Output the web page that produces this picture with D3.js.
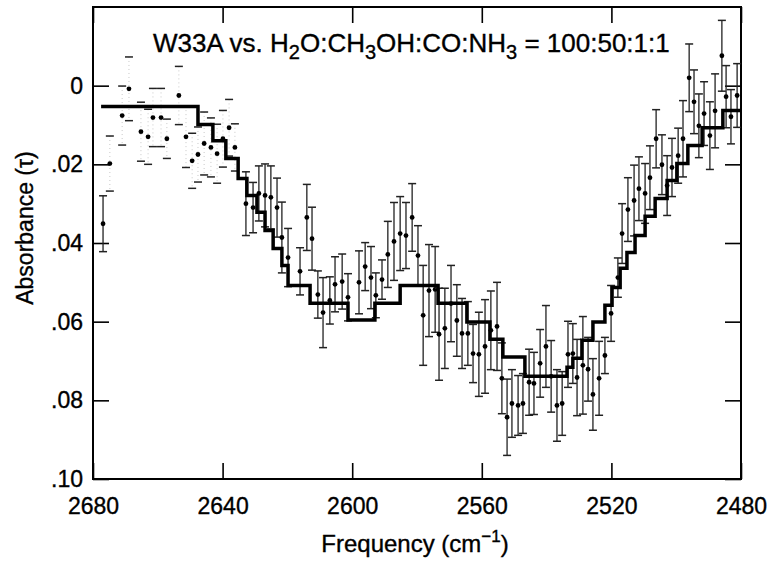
<!DOCTYPE html>
<html>
<head>
<meta charset="utf-8">
<script src="https://cdn.jsdelivr.net/npm/d3@7"></script>
<style>
  body { margin: 0; background: #fff; }
  svg { display: block; font-family: "Liberation Sans", Arial, Helvetica, sans-serif; }
  text { stroke: #000; stroke-width: 0.35px; }
</style>
</head>
<body>
<svg id="chart"></svg>
<script>
// model: step edges (cm-1) and tau of each step
const stepFreq = [2677.5, 2647.6, 2643.0, 2639.0, 2635.2, 2632.5, 2629.4, 2626.9, 2624.4, 2621.7,
  2619.8, 2613.0, 2601.3, 2593.0, 2585.2, 2573.5, 2564.6, 2557.5, 2553.5, 2546.7,
  2533.7, 2531.9, 2529.1, 2525.7, 2522.0, 2519.8, 2517.3, 2515.2, 2512.7, 2509.6,
  2506.5, 2502.8, 2499.8, 2496.4, 2492.0, 2485.6, 2480];
const stepTau = [0.0053, 0.0099, 0.0140, 0.0185, 0.0236, 0.0279, 0.0322, 0.0368, 0.0414, 0.0457,
  0.0508, 0.0553, 0.0596, 0.0553, 0.0508, 0.0553, 0.0601, 0.0645, 0.0690, 0.0739,
  0.0716, 0.0693, 0.0647, 0.0601, 0.0558, 0.0513, 0.0464, 0.0424, 0.0381, 0.0332,
  0.0287, 0.0241, 0.0198, 0.0152, 0.0107, 0.0063];

// W33A points, faint (dotted) error bars at the blue end
const faintFreq = [2674.8, 2671.0, 2668.9, 2665.2, 2663.0, 2661.5, 2659.0, 2657.2, 2653.5, 2651.3,
  2649.4, 2647.6, 2645.7, 2643.6, 2641.7, 2639.9, 2638.0, 2636.2];
const faintTau = [0.0198, 0.0076, 0.0008, 0.0117, 0.0130, 0.0081, 0.0081, 0.0135, 0.0025, 0.0130,
  0.0191, 0.0175, 0.0147, 0.0157, 0.0173, 0.0135, 0.0107, 0.0157];
const faintErr = [0.0070, 0.0075, 0.0081, 0.0075, 0.0070, 0.0074, 0.0074, 0.0050, 0.0074, 0.0078,
  0.0070, 0.0070, 0.0080, 0.0075, 0.0075, 0.0072, 0.0072, 0.0060];

// W33A points with solid error bars
const obsFreq = [2676.9, 2632.8, 2630.6, 2628.8, 2626.9, 2625.1, 2623.2, 2621.7, 2619.8, 2616.1,
  2614.0, 2612.4, 2610.6, 2609.0, 2606.9, 2605.3, 2603.1, 2601.3, 2597.9, 2596.0,
  2594.2, 2592.7, 2590.8, 2589.0, 2587.1, 2585.2, 2583.4, 2581.5, 2579.7, 2578.1,
  2576.3, 2574.4, 2573.2, 2571.4, 2569.5, 2567.7, 2566.1, 2564.3, 2562.7, 2560.9,
  2559.0, 2557.2, 2555.3, 2553.8, 2552.2, 2550.7, 2548.8, 2547.3, 2545.4, 2543.9,
  2542.0, 2540.2, 2538.6, 2536.8, 2535.2, 2533.4, 2531.9, 2530.6, 2528.8, 2527.2,
  2525.7, 2523.8, 2522.0, 2520.1, 2518.0, 2516.7, 2514.9, 2513.0, 2511.5, 2509.6,
  2508.1, 2506.2, 2504.4, 2502.8, 2501.3, 2499.4, 2497.9, 2496.0, 2494.5, 2493.0,
  2491.4, 2489.6, 2488.0, 2485.9, 2484.6, 2483.1, 2481.2];
const obsTau = [0.0351, 0.0300, 0.0310, 0.0274, 0.0279, 0.0284, 0.0310, 0.0386, 0.0437, 0.0472,
  0.0335, 0.0389, 0.0531, 0.0577, 0.0546, 0.0505, 0.0498, 0.0538, 0.0500, 0.0460,
  0.0488, 0.0533, 0.0493, 0.0429, 0.0396, 0.0376, 0.0381, 0.0335, 0.0432, 0.0584,
  0.0521, 0.0518, 0.0632, 0.0617, 0.0554, 0.0597, 0.0630, 0.0630, 0.0681, 0.0683,
  0.0663, 0.0622, 0.0612, 0.0744, 0.0843, 0.0808, 0.0813, 0.0808, 0.0754, 0.0757,
  0.0706, 0.0663, 0.0739, 0.0813, 0.0808, 0.0683, 0.0681, 0.0742, 0.0711, 0.0721,
  0.0785, 0.0744, 0.0686, 0.0579, 0.0488, 0.0376, 0.0315, 0.0292, 0.0262, 0.0274,
  0.0234, 0.0135, 0.0201, 0.0254, 0.0208, 0.0178, 0.0135, -0.0020, 0.0041, 0.0102,
  0.0071, 0.0127, 0.0064, -0.0076, 0.0028, 0.0079, 0.0025];
const obsErr = [0.0071, 0.0081, 0.0064, 0.0070, 0.0080, 0.0080, 0.0075, 0.0090, 0.0074, 0.0060,
  0.0084, 0.0080, 0.0060, 0.0089, 0.0060, 0.0070, 0.0070, 0.0060, 0.0080, 0.0061,
  0.0079, 0.0057, 0.0050, 0.0084, 0.0099, 0.0094, 0.0084, 0.0086, 0.0076, 0.0127,
  0.0117, 0.0109, 0.0117, 0.0102, 0.0097, 0.0091, 0.0089, 0.0081, 0.0074, 0.0107,
  0.0119, 0.0100, 0.0112, 0.0090, 0.0097, 0.0086, 0.0076, 0.0076, 0.0084, 0.0079,
  0.0086, 0.0104, 0.0091, 0.0091, 0.0081, 0.0084, 0.0076, 0.0097, 0.0124, 0.0081,
  0.0091, 0.0094, 0.0046, 0.0071, 0.0050, 0.0076, 0.0081, 0.0090, 0.0081, 0.0076,
  0.0081, 0.0074, 0.0076, 0.0076, 0.0074, 0.0070, 0.0097, 0.0086, 0.0081, 0.0081,
  0.0081, 0.0086, 0.0094, 0.0090, 0.0079, 0.0069, 0.0081];

const xTicks = [2680, 2640, 2600, 2560, 2520, 2480];
const yTicks = [0, 0.02, 0.04, 0.06, 0.08, 0.10];

const width = 768;
const height = 561;
const plotLeft = 93, plotRight = 741, plotTop = 7, plotBottom = 479;

const svg = d3.select("#chart")
  .attr("width", width)
  .attr("height", height);

const xScale = d3.scaleLinear()
  .domain([2680, 2480])
  .range([plotLeft, plotRight]);

const yScale = d3.scaleLinear()
  .domain([-0.02, 0.10])
  .range([plotTop, plotBottom]);

const yFormat = d => d === 0 ? "0" : d3.format(".2f")(d).replace(/^0/, "");

const xAxis = d3.axisBottom(xScale).tickValues(xTicks).tickSizeInner(-16).tickSizeOuter(0).tickPadding(19).tickFormat(d3.format("d"));
const xAxisTop = d3.axisTop(xScale).tickValues(xTicks).tickSizeInner(-16).tickSizeOuter(0).tickFormat("");
const yAxis = d3.axisLeft(yScale).tickValues(yTicks).tickSizeInner(-16).tickSizeOuter(0).tickPadding(10).tickFormat(yFormat);
const yAxisRight = d3.axisRight(yScale).tickValues(yTicks).tickSizeInner(-16).tickSizeOuter(0).tickFormat("");

function styleAxis(g) {
  g.select(".domain").remove();
  g.selectAll("line").attr("stroke", "#000").attr("stroke-width", 1.6);
  g.selectAll("text")
    .attr("fill", "#000")
    .style("font-size", "23px")
    .style("font-family", "'Liberation Sans', Arial, Helvetica, sans-serif");
}

svg.append("g").attr("transform", "translate(0," + plotBottom + ")").call(xAxis).call(styleAxis);
svg.append("g").attr("transform", "translate(0," + plotTop + ")").call(xAxisTop).call(styleAxis);
svg.append("g").attr("transform", "translate(" + plotLeft + ",0)").call(yAxis).call(styleAxis);
svg.append("g").attr("transform", "translate(" + plotRight + ",0)").call(yAxisRight).call(styleAxis);

svg.append("rect")
  .attr("x", plotLeft)
  .attr("y", plotTop)
  .attr("width", plotRight - plotLeft)
  .attr("height", plotBottom - plotTop)
  .attr("fill", "none")
  .attr("stroke", "#000")
  .attr("stroke-width", 2);

const faint = faintFreq.map((f, i) => ({ f: f, t: faintTau[i], e: faintErr[i] }));
const obs = obsFreq.map((f, i) => ({ f: f, t: obsTau[i], e: obsErr[i] }));

function drawErrorBars(data, dotted) {
  const g = svg.append("g");
  const items = g.selectAll("g")
    .data(data)
    .enter()
    .append("g");

  items.append("line")
    .attr("x1", d => xScale(d.f))
    .attr("x2", d => xScale(d.f))
    .attr("y1", d => yScale(d.t - d.e))
    .attr("y2", d => yScale(d.t + d.e))
    .attr("stroke", dotted ? "#c8c8c8" : "#222")
    .attr("stroke-width", dotted ? 1 : 1.3)
    .attr("stroke-dasharray", dotted ? "1,3" : null);

  [-1, 1].forEach(s => {
    items.append("line")
      .attr("x1", d => xScale(d.f) - 4)
      .attr("x2", d => xScale(d.f) + 4)
      .attr("y1", d => yScale(d.t + s * d.e))
      .attr("y2", d => yScale(d.t + s * d.e))
      .attr("stroke", "#222")
      .attr("stroke-width", 1.5);
  });

  items.append("circle")
    .attr("cx", d => xScale(d.f))
    .attr("cy", d => yScale(d.t))
    .attr("r", 2.4)
    .attr("fill", "#000");
}

drawErrorBars(faint, true);
drawErrorBars(obs, false);

const stepPoints = stepFreq.map((f, i) => [f, i < stepTau.length ? stepTau[i] : stepTau[stepTau.length - 1]]);

const stepLine = d3.line()
  .x(d => xScale(d[0]))
  .y(d => yScale(d[1]))
  .curve(d3.curveStepAfter);

svg.append("path")
  .datum(stepPoints)
  .attr("d", stepLine)
  .attr("fill", "none")
  .attr("stroke", "#000")
  .attr("stroke-width", 3.5)
  .attr("stroke-linejoin", "miter");

// title with subscripts
const title = svg.append("text")
  .attr("x", 153)
  .attr("y", 52)
  .attr("fill", "#000")
  .style("font-size", "26px");

const titleParts = [
  ["W33A vs. H", false], ["2", true], ["O:CH", false], ["3", true],
  ["OH:CO:NH", false], ["3", true], [" = 100:50:1:1", false]
];
titleParts.forEach((p, i) => {
  title.append("tspan")
    .attr("dy", p[1] ? 7 : (i > 0 ? -7 : 0))
    .style("font-size", p[1] ? "20px" : "26px")
    .text(p[0]);
});

const xLabel = svg.append("text")
  .attr("x", 415)
  .attr("y", 552)
  .attr("fill", "#000")
  .style("text-anchor", "middle")
  .style("font-size", "24px");
xLabel.append("tspan").text("Frequency (cm");
xLabel.append("tspan").attr("dy", -10).style("font-size", "17px").text("\u22121");
xLabel.append("tspan").attr("dy", 10).text(")");

svg.append("text")
  .attr("transform", "rotate(-90)")
  .attr("x", -228)
  .attr("y", 33)
  .attr("fill", "#000")
  .style("text-anchor", "middle")
  .style("font-size", "23px")
  .text("Absorbance (\u03c4)");
</script>
</body>
</html>
